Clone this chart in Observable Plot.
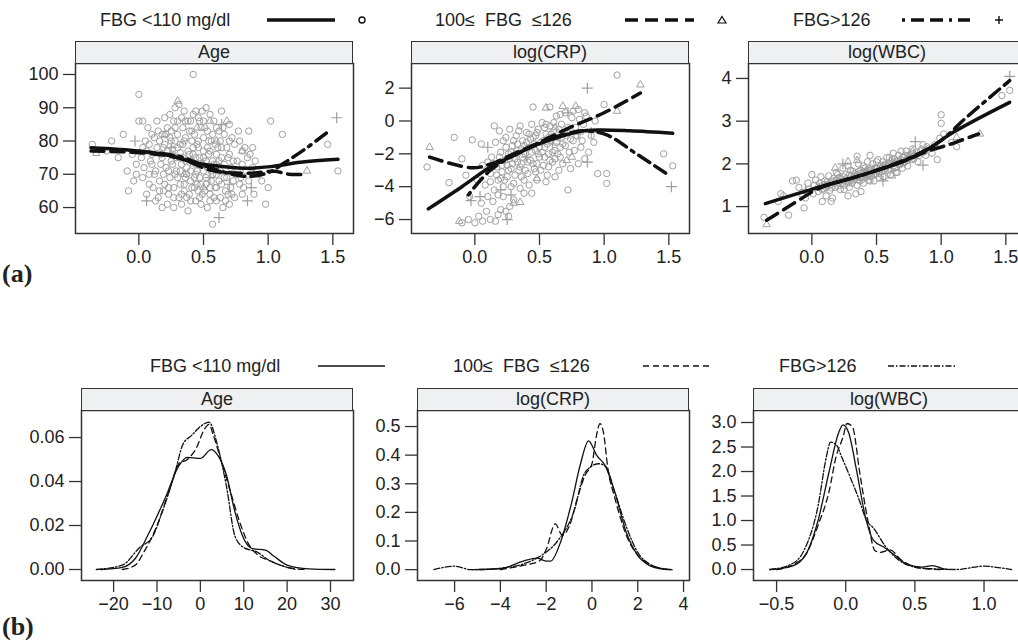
<!DOCTYPE html>
<html><head><meta charset="utf-8">
<script src="https://cdn.jsdelivr.net/npm/d3@7"></script>
<script src="https://cdn.jsdelivr.net/npm/@observablehq/plot@0.6"></script>
<style>
html,body{margin:0;padding:0;background:#fff;}
#page{position:relative;width:1018px;height:640px;overflow:hidden;font-family:"Liberation Sans",Arial,sans-serif;color:#222;}
.strip{position:absolute;box-sizing:border-box;height:23px;background:#eff0f2;border:1.5px solid #333;text-align:center;font-size:18px;line-height:20px;}
.tag{position:absolute;font-family:"Liberation Serif","Times New Roman",serif;font-weight:bold;font-size:26px;line-height:30px;}
</style></head>
<body><div id="page"></div>
<script>
// ---------------- data ----------------
const legendLabels = ["FBG <110 mg/dl", "100\u2264  FBG  \u2264126", "FBG>126"];
const panelTitles = ["Age", "log(CRP)", "log(WBC)"];

// (a) Age scatter
const ageCircles = [[0.42,100],[0.0,94],[1.02,86],[1.11,82],[1.46,79],[1.54,71],[0.88,78],[0.85,83],[0.64,89],[1.0,66],[0.98,61],[0.57,55],
[0.28,90],[0.31,91],[0.35,89],[0.44,89],[0.49,89],[0.52,90],[0.55,88],
[0.0,86],[0.03,86],[0.2,87],[0.27,86],[0.33,87],[0.38,86],[0.42,88],[0.46,87],[0.5,86],[0.58,86],[0.6,84],[0.7,85],
[0.07,84],[0.1,82],[0.15,83],[0.18,82],[0.22,84],[0.25,83],[0.3,82],[0.34,84],[0.39,83],[0.43,82],[0.48,84],[0.53,83],[0.57,82],[0.62,83],[0.66,82],[0.72,81],[0.78,80],[0.82,78],[0.86,76],
[-0.21,80],[-0.12,82],[-0.36,79],[0.05,80],[0.08,79],[0.12,81],[0.16,80],[0.2,79],[0.24,81],[0.28,80],[0.32,79],[0.36,81],[0.41,80],[0.45,79],[0.5,81],[0.54,80],[0.59,79],[0.63,80],[0.68,78],[0.74,79],[0.8,77],
[-0.25,77],[-0.16,75],[-0.05,76],[0.02,75],[0.06,77],[0.1,76],[0.14,78],[0.18,75],[0.22,77],[0.26,76],[0.3,78],[0.34,75],[0.38,77],[0.42,76],[0.46,78],[0.5,75],[0.55,77],[0.6,76],[0.64,75],[0.7,76],[0.76,74],[0.84,75],[0.9,74],
[-0.09,71],[-0.02,73],[0.04,72],[0.09,74],[0.13,71],[0.17,73],[0.21,72],[0.25,74],[0.29,71],[0.33,73],[0.37,72],[0.41,74],[0.45,71],[0.49,73],[0.53,72],[0.57,74],[0.61,71],[0.66,73],[0.71,72],[0.75,70],[0.8,73],[0.88,72],[0.93,70],
[-0.04,68],[0.03,69],[0.08,67],[0.12,70],[0.16,68],[0.2,67],[0.24,69],[0.28,70],[0.32,67],[0.36,69],[0.4,68],[0.44,70],[0.48,67],[0.52,69],[0.56,68],[0.6,70],[0.64,67],[0.68,69],[0.73,68],[0.78,67],[0.85,68],[0.95,68],
[-0.08,65],[0.06,64],[0.11,66],[0.15,63],[0.19,65],[0.23,64],[0.27,66],[0.31,63],[0.35,65],[0.39,64],[0.43,66],[0.47,63],[0.51,65],[0.55,64],[0.59,66],[0.63,63],[0.67,65],[0.72,64],[0.8,64],[0.89,64],
[0.13,62],[0.18,60],[0.22,61],[0.27,60],[0.33,61],[0.38,59],[0.44,62],[0.48,61],[0.53,60],[0.6,62],[0.65,60],[0.7,61],
[0.26,77.5],[0.32,76.5],[0.36,74],[0.4,71],[0.44,75],[0.47,69],[0.52,74],[0.35,80],[0.29,75],[0.23,71],[0.41,66],[0.46,65],[0.56,71],[0.62,68]];
const ageCirclesCore = [[0.17,76],[0.19,70],[0.21,82],[0.23,66],[0.26,73],[0.28,84],[0.3,69],[0.31,75],[0.33,64],[0.34,79],[0.36,86],[0.37,70],[0.39,76],[0.4,62],[0.41,83],[0.43,69],[0.44,73],[0.46,80],[0.47,75],[0.49,64],[0.5,71],[0.51,84],[0.52,67],[0.54,76],[0.55,62],[0.56,80],[0.57,70],[0.58,73],[0.6,66],[0.61,78],[0.62,74],[0.63,71],[0.65,84],[0.66,69],[0.67,62],[0.69,75],[0.7,80],[0.71,66],[0.73,74],[0.74,63],[0.76,71],[0.77,83],[0.79,69],[0.81,66],[0.83,71],[0.14,86],[0.16,65],[0.19,78],[0.24,88],[0.27,63],[0.32,71],[0.37,63],[0.42,78],[0.47,86],[0.53,78],[0.58,63],[0.64,78],[0.69,64],[0.1,73],[0.08,70],[0.03,78],[-0.02,70],[0.35,67],[0.45,67],[0.55,66],[0.4,86],[0.3,86],[0.25,80],[0.5,77],[0.6,73]];
const ageTriangles = [[-0.33,76.3],[0.3,92],[0.68,86],[0.55,86],[0.45,84],[0.6,80],[0.8,77],[1.3,71],[0.2,82],[0.35,70],[0.5,66]];
const agePluses = [[-0.03,80],[0.06,62],[0.62,57],[0.84,62],[0.87,66],[1.53,87],[0.64,85],[0.4,74],[0.25,78],[0.55,69],[0.7,67]];
const ageFitLow  = [[-0.37,78],[0.0,77],[0.25,75.5],[0.45,73.3],[0.56,72.7],[0.81,71.8],[1.02,72.3],[1.25,73.6],[1.54,74.5]];
const ageFitMid  = [[-0.37,77],[0.0,76.5],[0.3,75],[0.56,71.2],[0.84,70.3],[1.05,70.9],[1.16,70],[1.3,70]];
const ageFitHigh = [[-0.05,77],[0.3,75.5],[0.55,72],[0.81,69.4],[1.0,70.5],[1.12,73.3],[1.3,78],[1.47,83]];

// (a) log(CRP) scatter
const crpCircles = [[-0.37,-2.8],[-0.16,-1.0],[-0.02,-1.15],[-0.2,-3.75],[-0.1,-2.3],[-0.07,-3.3],[-0.04,-4.6],[-0.1,-6.2],[-0.05,-6.0],[0.0,-6.2],[0.03,-5.8],[0.06,-6.1],[0.09,-5.5],[0.12,-6.0],[0.16,-6.1],[0.2,-5.4],[0.24,-5.5],[0.27,-5.2],[0.18,-5.7],[0.05,-5.0],[0.1,-4.6],[0.14,-4.9],[0.02,-3.6],[0.06,-2.7],[0.08,-3.9],[0.12,-3.2],[0.13,-2.2],[0.15,-4.2],[0.16,-1.3],[0.17,-2.8],[0.18,-3.6],[0.19,-0.6],[0.2,-1.9],[0.21,-3.1],[0.22,-4.0],[0.23,-2.4],[0.24,-1.0],[0.25,-3.4],[0.26,-2.0],[0.27,-0.5],[0.28,-2.9],[0.29,-1.5],[0.3,-3.8],[0.31,-2.3],[0.32,-0.9],[0.33,-1.8],[0.34,-3.0],[0.35,-0.3],[0.36,-2.6],[0.37,-1.2],[0.38,-4.4],[0.39,-2.0],[0.4,-0.7],[0.41,-3.2],[0.42,-1.6],[0.43,-2.4],[0.44,-0.2],[0.45,-1.0],[0.46,-2.9],[0.47,-1.8],[0.48,-3.6],[0.49,-0.5],[0.5,-2.2],[0.51,-1.3],[0.52,-0.1],[0.53,-2.7],[0.54,-1.6],[0.55,-0.8],[0.56,-3.3],[0.57,-2.0],[0.58,-0.3],[0.59,-1.2],[0.6,-2.5],[0.61,-0.6],[0.62,-1.8],[0.63,0.3],[0.64,-1.0],[0.65,-3.0],[0.66,-2.2],[0.67,-0.2],[0.68,-1.4],[0.7,0.5],[0.71,-0.9],[0.72,-4.2],[0.73,-1.9],[0.75,0.2],[0.76,-1.2],[0.78,-0.4],[0.8,-2.6],[0.8,0.7],[0.82,-1.6],[0.84,-0.2],[0.86,0.3],[0.88,-1.9],[0.9,-0.9],[0.93,0.0],[0.95,-3.2],[1.0,1.0],[1.02,-3.2],[1.02,-3.8],[1.1,2.8],[1.46,-2.0],[1.53,-2.73],[0.45,0.85],[0.58,0.85],[0.3,-4.8],[0.22,-4.6],[0.26,-5.8],[0.35,-4.1],[0.42,-3.9],[0.1,-2.5],[0.05,-1.4],[0.15,-0.3],[0.55,-3.7],[0.62,-3.4],[0.85,-2.3],[0.92,-1.3],
[0.28,-1.9],[0.33,-2.5],[0.38,-1.5],[0.43,-1.1],[0.48,-2.6],[0.52,-1.9],[0.57,-1.0],[0.62,-2.3],[0.66,-1.6],[0.36,-3.4],[0.25,-2.7],[0.2,-3.5],[0.47,-0.9],[0.54,-0.4],[0.69,-0.7]];
const crpCirclesCore = [[0.12,-3.7],[0.14,-2.6],[0.17,-3.3],[0.19,-2.2],[0.21,-2.7],[0.23,-3.6],[0.24,-1.6],[0.26,-3.0],[0.27,-2.3],[0.29,-2.6],[0.3,-1.2],[0.31,-3.3],[0.32,-2.0],[0.33,-1.4],[0.35,-2.8],[0.36,-1.7],[0.37,-2.2],[0.39,-3.0],[0.4,-1.3],[0.41,-2.5],[0.42,-0.8],[0.44,-1.9],[0.45,-2.6],[0.46,-1.4],[0.48,-0.7],[0.49,-2.0],[0.5,-1.6],[0.51,-3.0],[0.53,-1.2],[0.54,-2.2],[0.55,-0.2],[0.56,-1.4],[0.58,-2.4],[0.59,-0.8],[0.6,-1.9],[0.61,-0.1],[0.63,-1.3],[0.64,-2.0],[0.65,-0.5],[0.67,-1.0],[0.68,-2.6],[0.7,-1.5],[0.72,-0.4],[0.74,-1.1],[0.76,0.6],[0.77,-1.8],[0.79,-0.9],[0.81,0.1],[0.83,-1.2],[0.85,0.5],[0.34,-0.6],[0.38,-3.6],[0.47,-3.1],[0.57,-2.8],[0.28,-4.0],[0.18,-4.5],[0.66,0.4],[0.74,-2.9],[0.22,-1.2],[0.44,-4.4]];
const crpTriangles = [[-0.35,-1.6],[0.3,-5.0],[0.35,-4.95],[0.75,-2.2],[0.71,-2.4],[1.1,0.6],[1.28,2.2],[0.55,0.8],[0.68,0.9],[0.78,0.9],[-0.12,-6.1],[0.62,-0.4],[0.48,-3.5]];
const crpPluses = [[0.87,2.0],[0.8,-0.8],[0.87,-2.5],[1.52,-4.0],[0.25,-6.0],[0.28,-4.5],[0.04,-4.6],[-0.03,-4.85],[0.2,-4.2],[0.72,0.5],[0.1,-1.6],[0.9,-0.7],[0.4,-2.2],[0.6,-1.4]];
const crpFitLow  = [[-0.36,-5.35],[-0.1,-4.0],[0.12,-2.8],[0.3,-2.1],[0.43,-1.6],[0.6,-1.1],[0.8,-0.65],[0.95,-0.55],[1.2,-0.6],[1.53,-0.75]];
const crpFitMid  = [[-0.35,-2.2],[-0.02,-2.85],[0.13,-2.6],[0.3,-2.0],[0.5,-1.3],[0.72,-0.45],[1.0,0.5],[1.28,1.7]];
const crpFitHigh = [[-0.05,-4.5],[0.12,-3.0],[0.4,-1.7],[0.7,-0.8],[0.85,-0.6],[1.02,-0.85],[1.25,-2.0],[1.5,-3.3]];

// (a) log(WBC) scatter
const wbcCircles = [[-0.37,0.75],[-0.26,1.12],[-0.22,1.25],[-0.18,0.8],[-0.15,1.6],[-0.12,1.62],[-0.1,1.45],[-0.08,1.3],[-0.06,0.97],[-0.05,1.2],[-0.03,1.55],[-0.02,1.4],[0.0,1.75],[0.01,1.3],[0.02,1.5],[0.03,1.62],[0.05,1.35],[0.06,1.55],[0.07,1.7],[0.08,1.12],[0.09,1.42],[0.1,1.6],[0.11,1.25],[0.12,1.5],[0.13,1.72],[0.14,1.38],[0.15,1.58],[0.16,1.2],[0.17,1.66],[0.18,1.45],[0.19,1.8],[0.2,1.55],[0.21,1.68],[0.22,1.4],[0.23,1.62],[0.24,1.9],[0.25,1.5],[0.26,1.75],[0.27,1.6],[0.28,1.95],[0.29,1.45],[0.3,1.7],[0.31,1.55],[0.32,1.82],[0.33,1.65],[0.34,1.3],[0.35,1.75],[0.36,2.0],[0.37,1.6],[0.38,1.85],[0.39,1.7],[0.4,1.55],[0.41,1.9],[0.42,1.78],[0.43,2.05],[0.44,1.62],[0.45,1.85],[0.46,1.72],[0.47,2.0],[0.48,1.6],[0.49,1.9],[0.5,1.78],[0.51,2.1],[0.52,1.68],[0.53,1.95],[0.54,1.82],[0.55,2.05],[0.56,1.7],[0.57,1.98],[0.58,2.15],[0.59,1.85],[0.6,2.0],[0.61,1.75],[0.62,2.1],[0.63,2.25],[0.64,1.9],[0.65,2.05],[0.66,1.8],[0.67,2.2],[0.68,2.0],[0.69,2.3],[0.7,1.9],[0.71,2.15],[0.72,2.05],[0.73,2.3],[0.74,1.95],[0.75,2.2],[0.77,2.1],[0.78,2.35],[0.8,2.2],[0.82,2.05],[0.84,2.3],[0.86,2.45],[0.88,2.2],[0.9,2.35],[0.93,2.25],[0.95,2.45],[0.97,2.1],[0.99,2.6],[1.0,2.95],[1.0,3.15],[1.02,2.7],[1.08,2.5],[1.12,2.4],[1.47,3.6],[1.53,3.72],[0.35,2.18],[0.45,2.2],[0.38,1.35],[0.28,1.25],[0.15,1.12],[-0.24,1.3],
[0.3,1.62],[0.34,1.72],[0.38,1.68],[0.42,1.82],[0.46,1.8],[0.5,1.88],[0.54,1.9],[0.58,1.95],[0.62,2.0],[0.66,2.05],[0.7,2.08],[0.74,2.12],[0.4,1.8],[0.48,1.76],[0.56,1.98],[0.64,2.12]];
const wbcCirclesCore = [[0.05,1.45],[0.07,1.48],[0.08,1.4],[0.1,1.52],[0.11,1.45],[0.12,1.58],[0.14,1.5],[0.15,1.44],[0.16,1.6],[0.18,1.55],[0.19,1.62],[0.2,1.48],[0.22,1.66],[0.23,1.56],[0.24,1.7],[0.25,1.6],[0.27,1.66],[0.28,1.55],[0.29,1.74],[0.31,1.66],[0.32,1.6],[0.33,1.77],[0.35,1.68],[0.36,1.82],[0.37,1.72],[0.38,1.78],[0.39,1.64],[0.41,1.8],[0.42,1.7],[0.43,1.86],[0.44,1.76],[0.45,1.7],[0.46,1.9],[0.47,1.82],[0.49,1.75],[0.5,1.92],[0.51,1.84],[0.52,1.78],[0.53,1.88],[0.55,1.95],[0.56,1.85],[0.57,1.9],[0.59,2.0],[0.6,1.9],[0.61,2.05],[0.63,1.95],[0.64,2.02],[0.65,1.92],[0.67,2.08],[0.68,1.98],[0.7,2.15],[0.71,2.02],[0.72,2.2],[0.74,2.08],[0.76,2.15],[0.77,2.25],[0.79,2.12],[0.81,2.28],[0.83,2.2],[0.85,2.35],[0.87,2.28],[0.89,2.4],[0.2,1.75],[0.3,1.85],[0.4,1.95],[0.5,2.05],[0.6,2.15],[0.25,1.4],[0.35,1.5],[0.45,1.6],[0.55,1.7],[0.65,1.8]];
const wbcTriangles = [[-0.35,0.58],[0.28,2.05],[0.35,2.08],[0.18,1.9],[1.12,2.62],[1.3,2.7],[0.62,1.72],[0.78,2.3]];
const wbcPluses = [[0.24,2.0],[0.8,2.52],[0.86,1.97],[1.53,4.05],[0.55,1.6],[-0.05,1.4],[0.42,1.7]];
const wbcFitLow  = [[-0.36,1.07],[0.05,1.45],[0.4,1.75],[0.7,2.05],[0.9,2.35],[1.1,2.75],[1.53,3.44]];
const wbcFitMid  = [[-0.35,0.68],[-0.1,1.15],[0.05,1.42],[0.4,1.75],[0.7,2.05],[0.9,2.3],[1.06,2.45],[1.17,2.57],[1.29,2.7]];
const wbcFitHigh = [[0.05,1.45],[0.4,1.75],[0.8,2.2],[1.0,2.55],[1.2,3.1],[1.53,3.95]];

// (b) densities
const ageDensLow  = [[-23,0],[-18,0.001],[-15,0.005],[-12,0.016],[-8,0.033],[-5,0.047],[-3,0.051],[0,0.0505],[2.5,0.0545],[4,0.052],[6,0.043],[8,0.026],[10,0.014],[12,0.0095],[15,0.0088],[17,0.006],[20,0.002],[25,0.0003],[31,0]];
const ageDensMid  = [[-18,0],[-15,0.002],[-13,0.008],[-10,0.02],[-7,0.037],[-5,0.048],[-3,0.05],[-1,0.055],[1,0.064],[2,0.066],[3,0.061],[5,0.048],[7,0.035],[9,0.022],[11,0.012],[13,0.007],[16,0.004],[20,0.001],[24,0]];
const ageDensHigh = [[-24,0],[-18,0.002],[-14,0.01],[-11,0.015],[-9,0.025],[-6,0.043],[-4,0.057],[-2,0.061],[0,0.065],[2,0.067],[4,0.056],[6,0.038],[8,0.015],[10,0.01],[13,0.008],[16,0.004],[20,0.001],[22,0]];
const crpDensLow  = [[-5.2,0],[-4,0.003],[-3,0.03],[-2.4,0.04],[-2,0.03],[-1.8,0.03],[-1.4,0.09],[-0.9,0.23],[-0.5,0.37],[-0.15,0.45],[0.2,0.4],[0.6,0.36],[1.0,0.27],[1.5,0.13],[2,0.05],[2.5,0.015],[3,0.003],[3.5,0]];
const crpDensMid  = [[-4,0],[-3,0.015],[-2.3,0.03],[-2,0.07],[-1.6,0.16],[-1.3,0.12],[-1,0.15],[-0.6,0.26],[-0.3,0.33],[0,0.37],[0.2,0.47],[0.35,0.51],[0.5,0.48],[0.7,0.35],[1.0,0.25],[1.5,0.12],[2,0.05],[2.5,0.02],[3,0.004],[3.3,0]];
const crpDensHigh = [[-6.9,0],[-6,0.012],[-5.3,0],[-4,0.005],[-3,0.02],[-2.2,0.05],[-1.5,0.1],[-0.8,0.2],[-0.3,0.34],[0.3,0.37],[0.6,0.36],[1.0,0.27],[1.5,0.15],[2,0.06],[2.5,0.02],[3,0.005],[3.5,0]];
const wbcDensLow  = [[-0.55,0],[-0.45,0.03],[-0.35,0.12],[-0.28,0.35],[-0.2,1.0],[-0.12,2.0],[-0.05,2.8],[-0.02,2.95],[0.02,2.8],[0.08,2.0],[0.14,1.1],[0.2,0.6],[0.28,0.45],[0.35,0.3],[0.45,0.1],[0.55,0.05],[0.63,0.08],[0.7,0.02],[0.75,0]];
const wbcDensMid  = [[-0.5,0],[-0.38,0.1],[-0.28,0.35],[-0.2,0.9],[-0.12,1.6],[-0.07,2.3],[-0.02,2.7],[0.01,2.98],[0.05,2.9],[0.1,2.0],[0.16,1.0],[0.21,0.39],[0.25,0.35],[0.32,0.4],[0.4,0.2],[0.5,0.05],[0.6,0.01],[0.7,0]];
const wbcDensHigh = [[-0.55,0],[-0.4,0.1],[-0.3,0.4],[-0.2,1.3],[-0.14,2.3],[-0.11,2.6],[-0.07,2.55],[-0.03,2.3],[0.03,1.9],[0.1,1.4],[0.15,1.0],[0.2,0.85],[0.28,0.5],[0.38,0.2],[0.5,0.05],[0.6,0.02],[0.8,0.0],[1.0,0.07],[1.1,0.04],[1.2,0.0]];

// ---------------- drawing ----------------
const page = document.getElementById("page");
const W = 1030, H = 640;
const fmt1 = d3.format(".1f"), fmt2 = d3.format(".2f"), fmt0 = d3.format("d");
const X = d => d[0], Y = d => d[1];
const ptColor = "#a0a0a0";

function panel({frame, xDomain, yDomain, xTicks, yTicks, xFmt, yFmt, marks}) {
  const [l, t, r, b] = frame;
  const p = Plot.plot({
    width: W, height: H,
    marginLeft: l, marginRight: W - r, marginTop: t, marginBottom: H - b,
    x: {domain: xDomain}, y: {domain: yDomain},
    style: {fontSize: "18px", fontFamily: "'Liberation Sans', Arial, sans-serif", color: "#222", background: "transparent",
            position: "absolute", left: "0px", top: "0px", maxWidth: "none"},
    marks: [
      ...marks,
      Plot.frame({stroke: "#333", strokeWidth: 1.5}),
      Plot.axisX({ticks: xTicks, tickFormat: xFmt, tickSize: 12, tickPadding: 5, label: null, stroke: "#333", strokeWidth: 1.3}),
      Plot.axisY({ticks: yTicks, tickFormat: yFmt, tickSize: 12, tickPadding: 5, label: null, stroke: "#333", strokeWidth: 1.3})
    ]
  });
  p.style.position = "absolute"; p.style.left = "0px"; p.style.top = "0px"; p.style.maxWidth = "none";
  page.appendChild(p);
}
function strip(frame, top, text) {
  const d = document.createElement("div");
  d.className = "strip";
  d.style.left = frame[0] + "px"; d.style.top = top + "px";
  d.style.width = (frame[2] - frame[0]) + "px";
  d.textContent = text;
  page.appendChild(d);
}
const dashA = "13,7", dotdashA = "3,6,13,6,13,6";
function scatterMarks(c, t, p, low, mid, high) {
  return [
    Plot.dot(c, {x: X, y: Y, symbol: "circle", r: 3.2, stroke: ptColor, strokeWidth: 1, fill: "none"}),
    Plot.dot(t, {x: X, y: Y, symbol: "triangle2", r: 3.6, stroke: ptColor, strokeWidth: 1, fill: "none"}),
    Plot.dot(p, {x: X, y: Y, symbol: "plus", r: 3.6, stroke: ptColor, strokeWidth: 1.2, fill: "none"}),
    Plot.line(low, {x: X, y: Y, stroke: "#111", strokeWidth: 3.5, curve: "catmull-rom"}),
    Plot.line(mid, {x: X, y: Y, stroke: "#111", strokeWidth: 3.5, strokeDasharray: dashA, curve: "catmull-rom"}),
    Plot.line(high, {x: X, y: Y, stroke: "#111", strokeWidth: 3.5, strokeDasharray: dotdashA, curve: "catmull-rom"})
  ];
}
function densMarks(low, mid, high) {
  return [
    Plot.line(low, {x: X, y: Y, stroke: "#111", strokeWidth: 1.3, curve: "monotone-x"}),
    Plot.line(mid, {x: X, y: Y, stroke: "#111", strokeWidth: 1.3, strokeDasharray: "6,4", curve: "monotone-x"}),
    Plot.line(high, {x: X, y: Y, stroke: "#111", strokeWidth: 1.3, strokeDasharray: "6,2,1.5,2", curve: "monotone-x"})
  ];
}

const xA = [-0.49, 1.66], xTicksA = [0, 0.5, 1, 1.5];
const fA1 = [75, 63, 353, 233], fA2 = [411, 63, 689, 233], fA3 = [748, 63, 1026, 233];
panel({frame: fA1, xDomain: xA, yDomain: [52.2, 103.3], xTicks: xTicksA, yTicks: [60,70,80,90,100], xFmt: fmt1, yFmt: fmt0,
  marks: scatterMarks(ageCircles.concat(ageCirclesCore), ageTriangles, agePluses, ageFitLow, ageFitMid, ageFitHigh)});
panel({frame: fA2, xDomain: xA, yDomain: [-6.85, 3.5], xTicks: xTicksA, yTicks: [-6,-4,-2,0,2], xFmt: fmt1, yFmt: fmt0,
  marks: scatterMarks(crpCircles.concat(crpCirclesCore), crpTriangles, crpPluses, crpFitLow, crpFitMid, crpFitHigh)});
panel({frame: fA3, xDomain: xA, yDomain: [0.37, 4.35], xTicks: xTicksA, yTicks: [1,2,3,4], xFmt: fmt1, yFmt: fmt0,
  marks: scatterMarks(wbcCircles.concat(wbcCirclesCore), wbcTriangles, wbcPluses, wbcFitLow, wbcFitMid, wbcFitHigh)});

const fB1 = [81, 410, 353, 580], fB2 = [417, 410, 689, 580], fB3 = [753, 410, 1025, 580];
panel({frame: fB1, xDomain: [-27.4, 35.3], yDomain: [-0.005, 0.0723], xTicks: [-20,-10,0,10,20,30], yTicks: [0,0.02,0.04,0.06], xFmt: fmt0, yFmt: fmt2,
  marks: densMarks(ageDensLow, ageDensMid, ageDensHigh)});
panel({frame: fB2, xDomain: [-7.62, 4.26], yDomain: [-0.038, 0.556], xTicks: [-6,-4,-2,0,2,4], yTicks: [0,0.1,0.2,0.3,0.4,0.5], xFmt: fmt0, yFmt: fmt1,
  marks: densMarks(crpDensLow, crpDensMid, crpDensHigh)});
panel({frame: fB3, xDomain: [-0.667, 1.30], yDomain: [-0.224, 3.245], xTicks: [-0.5,0,0.5,1], yTicks: [0,0.5,1,1.5,2,2.5,3], xFmt: fmt1, yFmt: fmt1,
  marks: densMarks(wbcDensLow, wbcDensMid, wbcDensHigh)});

[fA1, fA2, fA3].forEach((f, i) => strip(f, 41, panelTitles[i]));
[fB1, fB2, fB3].forEach((f, i) => strip(f, 388, panelTitles[i]));

// legends
const NS = "http://www.w3.org/2000/svg";
const leg = document.createElementNS(NS, "svg");
leg.setAttribute("width", 1018); leg.setAttribute("height", 640);
leg.style.position = "absolute"; leg.style.left = "0"; leg.style.top = "0";
page.appendChild(leg);
function el(tag, attrs, txt) {
  const e = document.createElementNS(NS, tag);
  for (const k in attrs) e.setAttribute(k, attrs[k]);
  if (txt != null) e.textContent = txt;
  leg.appendChild(e); return e;
}
function ltext(x, y, s) {
  el("text", {x, y, "font-size": 18, "font-family": "'Liberation Sans', Arial, sans-serif", fill: "#222", "dominant-baseline": "central", style: "white-space:pre"}, s);
}
// legend (a)
const ya = 20;
ltext(100, ya, legendLabels[0]);
el("line", {x1: 267, x2: 335, y1: ya, y2: ya, stroke: "#111", "stroke-width": 3.5});
el("circle", {cx: 362, cy: ya, r: 3, fill: "none", stroke: "#111", "stroke-width": 1.4});
ltext(435, ya, legendLabels[1]);
el("line", {x1: 625, x2: 694, y1: ya, y2: ya, stroke: "#111", "stroke-width": 3.5, "stroke-dasharray": dashA});
el("path", {d: `M722,${ya-3.5}L726,${ya+3}L718,${ya+3}Z`, fill: "none", stroke: "#111", "stroke-width": 1.2});
ltext(793, ya, legendLabels[2]);
el("line", {x1: 902, x2: 970, y1: ya, y2: ya, stroke: "#111", "stroke-width": 3.5, "stroke-dasharray": dotdashA});
el("path", {d: `M995,${ya}H1003M999,${ya-4}V${ya+4}`, stroke: "#111", "stroke-width": 1.4});
// legend (b)
const yb = 366;
ltext(150, yb, legendLabels[0]);
el("line", {x1: 318, x2: 385, y1: yb, y2: yb, stroke: "#111", "stroke-width": 1.3});
ltext(453, yb, legendLabels[1]);
el("line", {x1: 643, x2: 713, y1: yb, y2: yb, stroke: "#111", "stroke-width": 1.3, "stroke-dasharray": "6,4"});
ltext(779, yb, legendLabels[2]);
el("line", {x1: 888, x2: 957, y1: yb, y2: yb, stroke: "#111", "stroke-width": 1.3, "stroke-dasharray": "6,2,1.5,2"});

// tags
const ta = document.createElement("div"); ta.className = "tag"; ta.textContent = "(a)"; ta.style.left = "2px"; ta.style.top = "259px"; page.appendChild(ta);
const tb = document.createElement("div"); tb.className = "tag"; tb.textContent = "(b)"; tb.style.left = "2px"; tb.style.top = "612px"; page.appendChild(tb);
</script></body></html>
